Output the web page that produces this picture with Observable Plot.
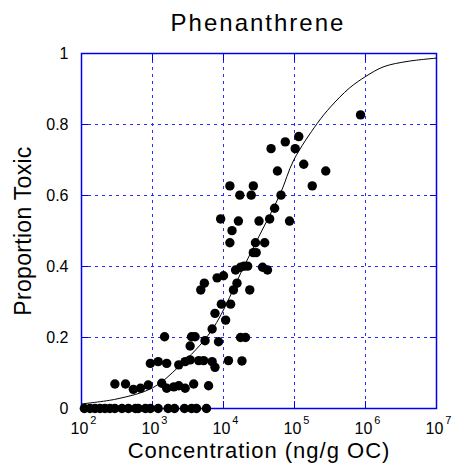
<!DOCTYPE html>
<html>
<head>
<meta charset="utf-8">
<script src="https://cdn.jsdelivr.net/npm/d3@7"></script>
<script src="https://cdn.jsdelivr.net/npm/@observablehq/plot@0.6"></script>
<style>
  html, body { margin: 0; padding: 0; background: #fff; }
</style>
</head>
<body>
<div id="chart"></div>
<script>
// ---- Data ----
const title = "Phenanthrene";
const xLabel = "Concentration (ng/g OC)";
const yLabel = "Proportion Toxic";

// observed samples: log10 concentration (ng/g OC) and proportion toxic
const logConc = [
  // proportion 0
  2.04, 2.12, 2.19, 2.26, 2.33, 2.40, 2.47, 2.57, 2.66, 2.76, 2.80, 2.90, 2.97, 3.08, 3.22, 3.31, 3.45, 3.55, 3.62, 3.76,
  // ~1/15
  2.47, 2.62, 2.73, 2.83, 2.94, 3.13, 3.20, 3.30, 3.37, 3.46, 3.58, 3.79,
  // ~2/15
  2.97, 3.08, 3.20, 3.37, 3.46, 3.53, 3.65, 3.72, 3.84, 3.88, 4.07, 4.26,
  // ~0.2
  3.17, 3.55, 3.60, 3.53, 3.74, 3.93, 4.24, 4.31,
  // middle cloud
  4.09, 4.42, 4.23, 4.39, 4.81, 4.72, 3.96, 4.21, 4.50, 4.65, 4.93, 4.12, 4.09, 4.45, 4.58,
  4.42, 4.46, 4.17, 4.24, 4.29, 4.34, 4.55, 4.62, 3.91, 4.00, 3.73, 3.68, 4.19, 4.14, 4.37,
  3.97, 4.10, 3.88, 4.03, 3.84,
  // upper points
  5.93, 5.06, 4.87, 5.01, 4.67, 5.13, 4.76, 5.44, 5.25
];
const propToxic = [
  0, 0, 0, 0, 0, 0, 0, 0, 0, 0, 0, 0, 0, 0, 0, 0, 0, 0, 0, 0,
  0.069, 0.069, 0.054, 0.057, 0.066, 0.071, 0.057, 0.061, 0.064, 0.057, 0.069, 0.064,
  0.127, 0.132, 0.127, 0.123, 0.132, 0.137, 0.135, 0.135, 0.132, 0.116, 0.135, 0.134,
  0.202, 0.202, 0.202, 0.176, 0.191, 0.188, 0.200, 0.200,
  0.627, 0.627, 0.601, 0.601, 0.601, 0.564, 0.534, 0.528, 0.528, 0.534, 0.528, 0.501, 0.467, 0.467, 0.467,
  0.439, 0.439, 0.390, 0.398, 0.401, 0.401, 0.398, 0.390, 0.368, 0.374, 0.353, 0.334, 0.353, 0.334, 0.334,
  0.294, 0.294, 0.268, 0.249, 0.224,
  0.827, 0.766, 0.751, 0.732, 0.732, 0.688, 0.669, 0.669, 0.627
];

// fitted response curve
const curveLogConc = [2.0, 2.5, 3.0, 3.37, 3.84, 4.29, 4.5, 4.8, 4.99, 5.32, 5.51, 5.77, 6.0, 6.26, 6.6, 7.0];
const curveProp    = [0.013, 0.027, 0.058, 0.118, 0.222, 0.401, 0.485, 0.605, 0.70, 0.803, 0.85, 0.902, 0.935, 0.963, 0.978, 0.987];

// ticks
const xTicks = [1e2, 1e3, 1e4, 1e5, 1e6, 1e7];
const xTickBase = ["10", "10", "10", "10", "10", "10"];
const xTickExp = ["2", "3", "4", "5", "6", "7"];
const yTicks = [0, 0.2, 0.4, 0.6, 0.8, 1];
const yTickLabels = ["0", "0.2", "0.4", "0.6", "0.8", "1"];

// ---- Build tables ----
const points = logConc.map((l, i) => ({conc: 10 ** l, prop: propToxic[i]}));
const curve = curveLogConc.map((l, i) => ({conc: 10 ** l, prop: curveProp[i]}));
const xTickRows = xTicks.map((v, i) => ({v, base: xTickBase[i], exp: xTickExp[i]}));

const BLUE = "#0000ee";
const GRID = "#2b2bff";

const chart = Plot.plot({
  width: 454,
  height: 464,
  marginTop: 53,
  marginBottom: 56,
  marginLeft: 81,
  marginRight: 18,
  style: {fontFamily: "'Liberation Sans', Arial, sans-serif", fontSize: "16px", color: "black", background: "white"},
  x: {type: "log", domain: [1e2, 1e7], axis: null},
  y: {domain: [0, 1], axis: null},
  marks: [
    Plot.gridX(xTicks.slice(1, -1), {stroke: GRID, strokeOpacity: 1, strokeWidth: 1, strokeDasharray: "3,4"}),
    Plot.gridY(yTicks.slice(1, -1), {stroke: GRID, strokeOpacity: 1, strokeWidth: 1, strokeDasharray: "3,4"}),
    // inward ticks on all four sides
    Plot.axisX(xTicks, {anchor: "bottom", tickSize: -7, stroke: BLUE, tickFormat: () => "", label: null}),
    Plot.axisX(xTicks, {anchor: "top", tickSize: -7, stroke: BLUE, tickFormat: () => "", label: null}),
    Plot.axisY(yTicks, {anchor: "left", tickSize: -7, stroke: BLUE, tickFormat: () => "", label: null}),
    Plot.axisY(yTicks, {anchor: "right", tickSize: -7, stroke: BLUE, tickFormat: () => "", label: null}),
    // y tick labels
    Plot.axisY(yTicks, {anchor: "left", tickSize: 0, tickPadding: 13, fontSize: 16, tickFormat: (d) => yTickLabels[yTicks.indexOf(d)], label: null, stroke: "none", fill: "black"}),
    // x tick labels: base "10" (exponent added as superscript tspan below)
    Plot.text(xTickRows, {x: "v", text: "base", frameAnchor: "bottom", lineAnchor: "bottom", textAnchor: "start", dy: 25.5, dx: -11, fontSize: 16, fill: "black"}),
    Plot.frame({stroke: BLUE, strokeWidth: 1.5}),
    Plot.dot(points, {x: "conc", y: "prop", r: 4.7, fill: "black", stroke: "none"}),
    Plot.line(curve, {x: "conc", y: "prop", curve: "catmull-rom", stroke: "black", strokeWidth: 1}),
    // titles
    Plot.text([title], {text: (d) => d, frameAnchor: "top", lineAnchor: "bottom", textAnchor: "middle", dy: -23, dx: -1, fontSize: 24, fill: "black"}),
    Plot.text([xLabel], {text: (d) => d, frameAnchor: "bottom", lineAnchor: "bottom", textAnchor: "middle", dy: 49.5, fontSize: 22, fill: "black"}),
    Plot.text([yLabel], {text: (d) => d, frameAnchor: "left", lineAnchor: "bottom", textAnchor: "middle", rotate: -90, dx: -51, fontSize: 23, fill: "black"})
  ]
});

const texts = d3.select(chart).selectAll("text");
texts.filter(function () { return this.textContent === title; }).attr("letter-spacing", "2px");
texts.filter(function () { return this.textContent === xLabel; }).attr("letter-spacing", "1px");
texts.filter(function () { return this.textContent === yLabel; }).attr("letter-spacing", "0.3px");
// superscript exponents on the x tick labels
texts.filter(function () { return this.textContent === "10"; }).each(function (d, i) {
  d3.select(this).append("tspan")
    .attr("dx", 2)
    .attr("dy", -10)
    .attr("font-size", 11)
    .text(xTickExp[i]);
});

document.getElementById("chart").appendChild(chart);
</script>
</body>
</html>
